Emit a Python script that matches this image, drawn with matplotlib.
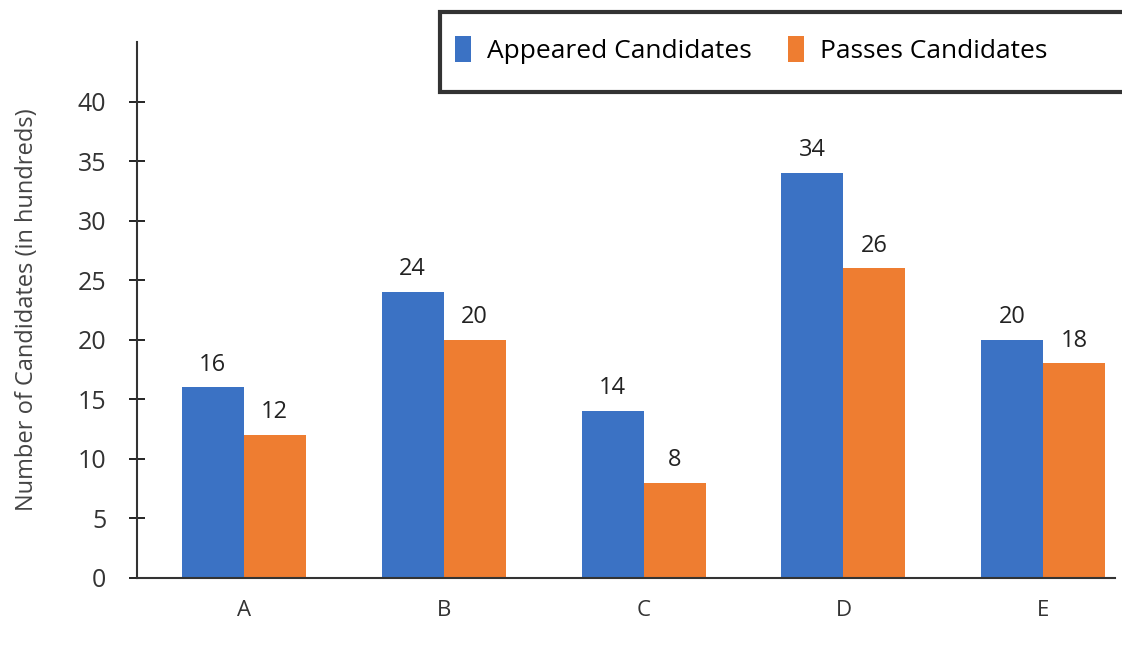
import matplotlib
matplotlib.use("Agg")
import matplotlib.pyplot as plt
from matplotlib.patches import Rectangle
import numpy as np

categories = ["A", "B", "C", "D", "E"]
appeared = [16, 24, 14, 34, 20]
passed = [12, 20, 8, 26, 18]
series_names = ["Appeared Candidates", "Passes Candidates"]
yticks = [0, 5, 10, 15, 20, 25, 30, 35, 40]

plt.rcParams['font.family'] = ['Open Sans', 'DejaVu Sans']

blue = "#3b72c4"
orange = "#ee7d31"

fig = plt.figure(figsize=(11.22, 6.47), dpi=100)
ax = fig.add_axes([0.122, 0.107, 0.872, 0.828])

x = np.arange(len(categories))
w = 0.31
b1 = ax.bar(x - w / 2, appeared, w, color=blue, label=series_names[0])
b2 = ax.bar(x + w / 2, passed, w, color=orange, label=series_names[1])

for bars, vals in ((b1, appeared), (b2, passed)):
    for r, v in zip(bars, vals):
        ax.text(r.get_x() + r.get_width() / 2, v + 0.9, str(v),
                ha="center", va="bottom", fontsize=17, color="#222222")

ax.set_xlim(-0.535, 4.36)
ax.set_ylim(0, 45)
ax.set_yticks(yticks)
ax.set_xticks(x)
ax.set_xticklabels(categories, fontsize=16, color="#333333")
ax.tick_params(axis="y", direction="inout", length=12, width=1.2,
               labelsize=18, labelcolor="#333333", pad=16)
ax.tick_params(axis="x", length=0, pad=16)
for s in ("top", "right"):
    ax.spines[s].set_visible(False)
for s in ("left", "bottom"):
    ax.spines[s].set_color("#333333")
    ax.spines[s].set_linewidth(1.5)

ax.set_ylabel("Number of Candidates (in hundreds)", fontsize=17,
              color="#444444", labelpad=28)

# legend box runs off the right edge of the picture
box = Rectangle((440 / 1122, 1 - 92 / 647), 0.7, 80 / 647,
                transform=fig.transFigure, facecolor="white",
                edgecolor="#333333", linewidth=3, clip_on=False, zorder=3)
fig.patches.append(box)

leg = fig.legend(loc="center left", bbox_to_anchor=(455 / 1122, 1 - 50 / 647),
                 ncol=2, fontsize=19, frameon=False,
                 handlelength=0.6, handleheight=1.1, columnspacing=1.4,
                 borderpad=0, borderaxespad=0, handletextpad=0.6)
leg.set_zorder(4)

fig.savefig("out.png", dpi=100)
